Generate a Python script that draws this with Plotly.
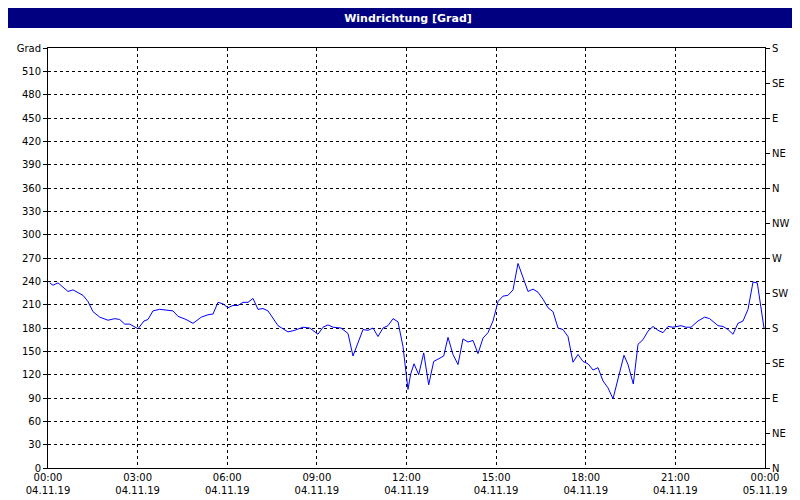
import plotly.graph_objects as go

px_x = [41.7,45,50,60,65,75,80,85,91.7,100,106.7,111.7,116.7,121.7,130,136,140,145,151.7,156.7,165,170,178,185,193.3,200,205,210,215,220,225,230,235,240,245,250,255,260,270,280,286.7,295,301.7,310,315,320,325,333,340,345,355,360,365,370,375,380,385,390,395,400,402.7,406,410.7,415.7,420.7,425.7,435.7,440,445,450,455,460,465,470,475,480,485,490,495,500,505,510,515,520,525,530,535,540,545,550,555,560,565,570,575,580,585,590,595,600,605,610,616,620,625.3,630,635,640,645,650,655,660,665,673,678,683,690,696.7,701.7,710,715,720,725,730,735,740,745,749.3,753.3,756]
hours = [round((p - 40) / 29.875, 3) for p in px_x]
values = [238,235,238,227,229,222,214,201,194,190,192,191,185,185,179,189,191,202,204,203,202,195,191,186,194,197,198,213,211,206,209,209,213,213,218,204,205,202,183,175,177,181,180,172,181,184,181,180,173,144,178,177,180,169,180,183,192,188,156,101,121,134,120,148,107,137,144,168,146,133,166,162,164,147,167,174,189,214,221,222,229,263,244,227,230,226,217,206,201,180,178,169,136,146,137,134,126,129,112,103,89,116,145,133,108,159,165,176,182,177,174,182,181,183,181,181,189,194,192,183,182,178,172,186,189,204,239,238,206,180]

tick_hours = [0,3,6,9,12,15,18,21,24]
tick_text = ["00:00<br>04.11.19","03:00<br>04.11.19","06:00<br>04.11.19","09:00<br>04.11.19","12:00<br>04.11.19",
             "15:00<br>04.11.19","18:00<br>04.11.19","21:00<br>04.11.19","00:00<br>05.11.19"]
left_vals = list(range(0, 541, 30))
left_text = [str(v) for v in left_vals[:-1]] + ["Grad"]
right_vals = list(range(0, 541, 45))
right_text = ["N","NE","E","SE","S","SW","W","NW","N","NE","E","SE","S"]

fig = go.Figure()
fig.add_trace(go.Scatter(x=hours, y=values, mode="lines", line=dict(color="#0000ff", width=1), showlegend=False, hoverinfo="skip"))
fig.add_trace(go.Scatter(x=[0], y=[0], yaxis="y2", mode="markers", marker=dict(opacity=0), showlegend=False, hoverinfo="skip"))

font = dict(family="DejaVu Sans", size=10, color="black")
fig.update_layout(
    width=800, height=500, margin=dict(l=40, r=43, t=40, b=40, autoexpand=False),
    paper_bgcolor="white", plot_bgcolor="white", font=font,
    xaxis=dict(range=[0, 24], tickvals=tick_hours, ticktext=tick_text, showgrid=True, automargin=False,
               gridcolor="black", griddash="3px,3px", gridwidth=1, showline=True, linecolor="black",
               mirror=True, zeroline=False, ticks="", tickfont=font),
    yaxis=dict(range=[0, 540], tickvals=left_vals, ticktext=left_text, showgrid=True, automargin=False,
               gridcolor="black", griddash="3px,3px", gridwidth=1, showline=True, linecolor="black",
               mirror=True, zeroline=False, ticks="outside", ticklen=4, tickcolor="black", tickfont=font),
    yaxis2=dict(range=[0, 540], tickvals=right_vals, ticktext=right_text, overlaying="y", side="right",
                showgrid=False, zeroline=False, ticks="outside", ticklen=4, tickcolor="black", automargin=False,
                showline=False, tickfont=font),
    title=dict(text="<b>Windrichtung [Grad]</b>", x=0.5, xanchor="center", y=0.98, yanchor="middle",
               font=dict(family="DejaVu Sans", size=11, color="white")),
    shapes=[
        dict(type="rect", xref="paper", yref="paper", x0=-0.06, x1=1.07, y0=1.0476, y1=1.1,
             fillcolor="#000080", line=dict(width=0), layer="below"),
    ],
)
fig.write_html("out.html")
